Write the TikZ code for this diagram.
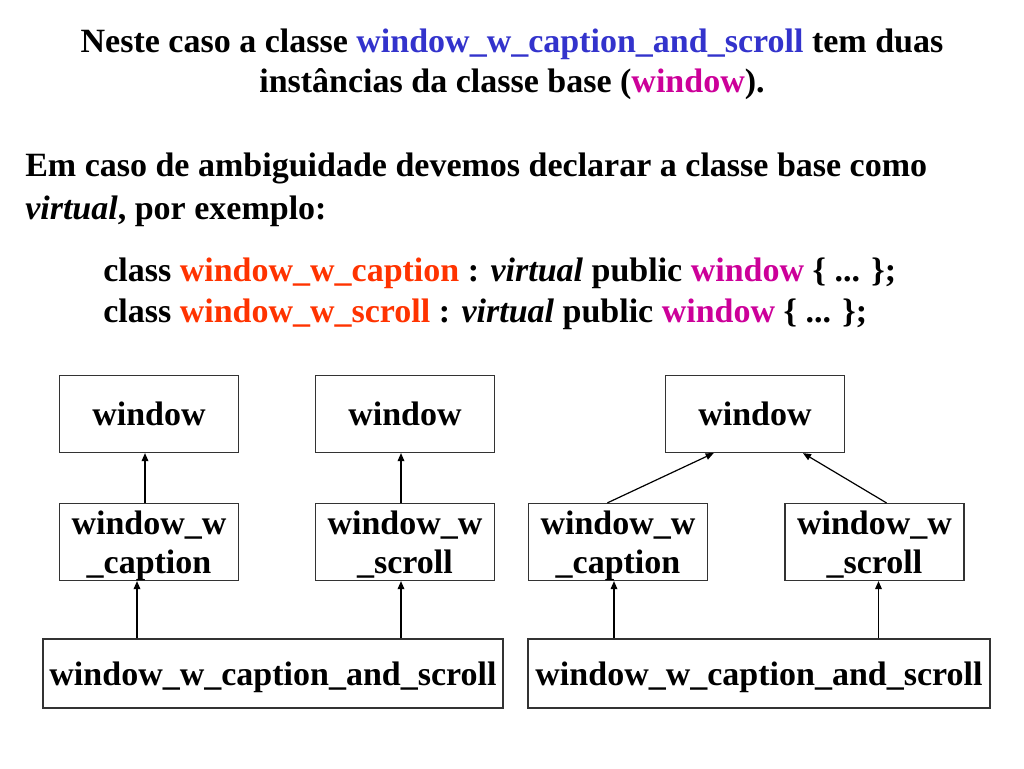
\documentclass[tikz,border=0pt]{standalone}
\usepackage{fontspec}
\setmainfont{Liberation Serif}
\usepackage{xcolor}
\usepackage{tikz}
\usetikzlibrary{arrows.meta}
\usetikzlibrary{positioning}
\definecolor{clsblue}{RGB}{51,51,204}
\definecolor{clsmag}{RGB}{204,0,153}
\definecolor{clsred}{RGB}{255,51,0}
\tikzset{
    txtline/.style = {anchor=base west, inner sep=0pt, font=\fontsize{25.5}{30}\selectfont\bfseries},
    txtmid/.style = {anchor=base, inner sep=0pt, font=\fontsize{25.5}{30}\selectfont\bfseries},
    classbox/.style = {rectangle, draw=black!80, line width=0.9pt, align=center, inner sep=0pt, text depth=0pt,
        minimum width=134.25pt, minimum height=57.75pt, font=\fontsize{25.5}{29.25}\selectfont\bfseries},
    classwide/.style = {classbox, minimum height=51.75pt},
}

\begin{document}
\begin{tikzpicture}[x=0.75pt, y=-0.75pt]
\tikzset{
    edgea/.style = {-{Triangle[length=6pt,width=5pt]}, line width=0.9pt, black},
}
\useasboundingbox (0,0) rectangle (1024,768);
% texto
\node[txtmid] at (512,52) (t1) {Neste caso a classe \textcolor{clsblue}{window\_w\_caption\_and\_scroll} tem duas};
\node[txtmid] at (512,92) (t2) {instâncias da classe base (\textcolor{clsmag}{window}).};
\node[txtline] at (25,176) (t3) {Em caso de ambiguidade devemos declarar a classe base como};
\node[txtline] at (25,219) (t4) {\itshape virtual\upshape, por exemplo:};
\node[txtline] at (103,281) (c1) {class \textcolor{clsred}{window\_w\_caption} : \itshape virtual \upshape public \textcolor{clsmag}{window} \{ ... \};};
\node[txtline] at (103,322) (c2) {class \textcolor{clsred}{window\_w\_scroll} : \itshape virtual \upshape public \textcolor{clsmag}{window} \{ ... \};};
%
\node[classbox] at (149,414) (win1) {window};
\node[classbox] at (405,414) (win2) {window};
\node[classbox] at (149,542) (wwc1) {window\_w\\\_caption};
\node[classbox] at (405,542) (wws1) {window\_w\\\_scroll};
\node[classwide, minimum width=345pt] at (273,673.5) (wwcas1) {window\_w\_caption\_and\_scroll};
%
\node[classbox] at (755,414) (win3) {window};
\node[classbox] at (618,542) (wwc2) {window\_w\\\_caption};
\node[classbox] at (874.5,542) (wws2) {window\_w\\\_scroll};
\node[classwide, minimum width=346.5pt] at (759,673.5) (wwcas2) {window\_w\_caption\_and\_scroll};
%
\draw[edgea] ([xshift=-3pt]wwc1.north) -- ([xshift=-3pt]win1.south);
\draw[edgea] ([xshift=-3pt]wws1.north) -- ([xshift=-3pt]win2.south);
\draw[edgea] ([xshift=-9pt]wwc1.south |- wwcas1.north) -- ([xshift=-9pt]wwc1.south);
\draw[edgea] ([xshift=-3pt]wws1.south |- wwcas1.north) -- ([xshift=-3pt]wws1.south);
%
\draw[edgea] ([xshift=-8pt]wwc2.north) -- ([xshift=-31pt]win3.south);
\draw[edgea] ([xshift=9pt]wws2.north) -- ([xshift=36pt]win3.south);
\draw[edgea] ([xshift=-3pt]wwc2.south |- wwcas2.north) -- ([xshift=-3pt]wwc2.south);
\draw[edgea] ([xshift=3pt]wws2.south |- wwcas2.north) -- ([xshift=3pt]wws2.south);
\end{tikzpicture}
\end{document}
